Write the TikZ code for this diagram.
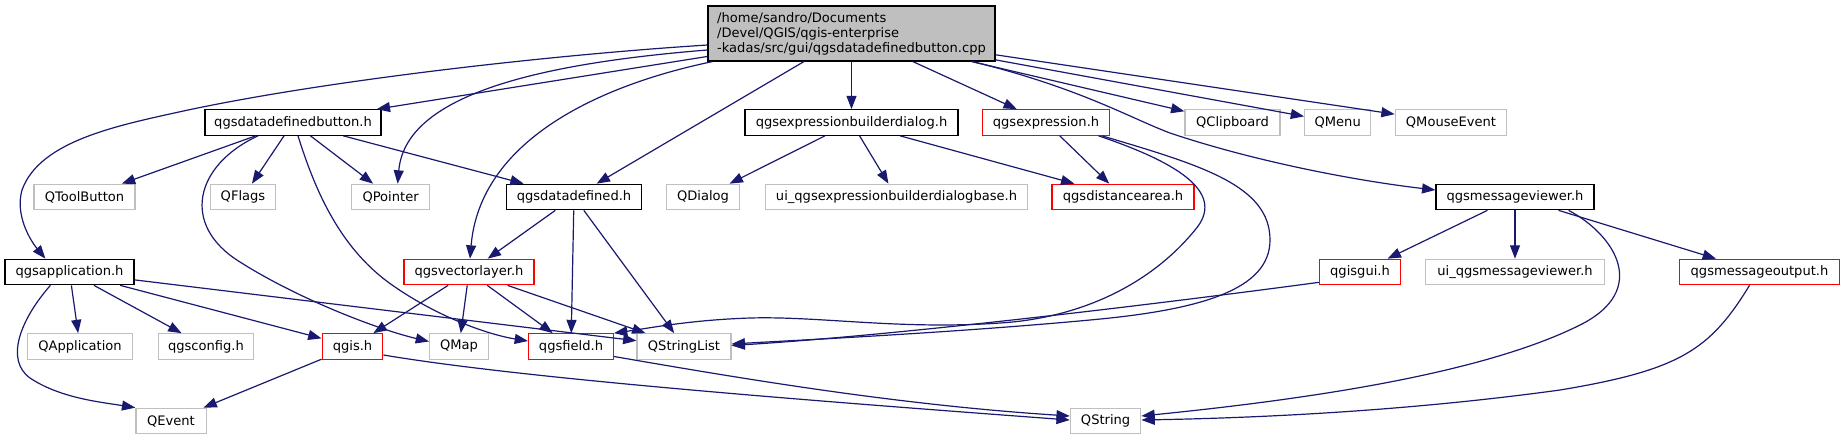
\documentclass[tikz,border=0pt]{standalone}
\usepackage{fontspec}
\setmainfont{DejaVu Sans}
\usetikzlibrary{arrows.meta,calc}
\definecolor{edgec}{HTML}{191970}
\definecolor{greyc}{HTML}{BFBFBF}
\begin{document}
\begin{tikzpicture}[x=0.75pt,y=-0.75pt,
  base/.style={draw, line width=0.9pt, inner sep=0pt, minimum height=25.5*0.75pt,
    font=\fontsize{9.8}{11.25}\selectfont, text=black},
  blk/.style={base, draw=black},
  redb/.style={base, draw=red},
  gry/.style={base, draw=greyc},
  w/.style={minimum width=#1*0.75pt},
  edge/.style={draw=edgec, line width=0.9pt, -{Triangle[length=10pt,width=7.5pt]}}
]
\useasboundingbox[fill=white] (0,0) rectangle (1844,440);

% row 1
\node[blk, fill=greyc, w=287, minimum height=55*0.75pt, align=left] (main) at (851.5,33.5)
  {/home/sandro/Documents\\/Devel/QGIS/qgis-enterprise\\-kadas/src/gui/qgsdatadefinedbutton.cpp};
% row 2
\node[blk, w=176] (dbh) at (293,122.5) {qgsdatadefinedbutton.h};
\node[blk, w=213] (ebd) at (851.5,122.5) {qgsexpressionbuilderdialog.h};
\node[redb, w=127] (expr) at (1046,122.5) {qgsexpression.h};
\node[gry, w=95] (qclip) at (1232.5,122.5) {QClipboard};
\node[gry, w=66] (qmenu) at (1337.7,122.5) {QMenu};
\node[gry, w=111.5] (qmouse) at (1451,122.5) {QMouseEvent};
% row 3
\node[gry, w=101] (qtool) at (84.5,197) {QToolButton};
\node[gry, w=65] (qflags) at (243,197) {QFlags};
\node[gry, w=78.4] (qpointer) at (390.6,197) {QPointer};
\node[blk, w=135] (qdd) at (574,197) {qgsdatadefined.h};
\node[gry, w=73.3] (qdialog) at (703,197) {QDialog};
\node[gry, w=262.3] (uiebd) at (896.5,197) {ui\_qgsexpressionbuilderdialogbase.h};
\node[redb, w=142] (qdist) at (1123,197) {qgsdistancearea.h};
\node[blk, w=158] (mv) at (1515,197) {qgsmessageviewer.h};
% row 4
\node[blk, w=129] (qapp) at (69.5,272) {qgsapplication.h};
\node[redb, w=130] (qvl) at (469,272) {qgsvectorlayer.h};
\node[redb, w=81.3] (qgisgui) at (1360,272) {qgisgui.h};
\node[gry, w=178.4] (uimv) at (1515,272) {ui\_qgsmessageviewer.h};
\node[redb, w=159.6] (msgout) at (1759.5,272) {qgsmessageoutput.h};
% row 5
\node[gry, w=105.3] (qapplication) at (80,346.5) {QApplication};
\node[gry, w=95.6] (qgsconfig) at (206,346.5) {qgsconfig.h};
\node[redb, w=60.7] (qgis) at (352.5,346.5) {qgis.h};
\node[gry, w=58.7] (qmap) at (459,346.5) {QMap};
\node[redb, w=84.8] (qgsfield) at (571,346.5) {qgsfield.h};
\node[gry, w=93.9] (qstringlist) at (684,346.5) {QStringList};
% row 6
\node[gry, w=70.2] (qevent) at (171,421) {QEvent};
\node[gry, w=70.4] (qstring) at (1105.6,421) {QString};

% main edges
\draw[edge] ($(main.west)+(0,11.5)$) .. controls (550,55) and (330,80) .. (188,110)
  .. controls (120,125) and (40,140) .. (22,190)
  .. controls (15,215) and (30,240) .. ($(qapp.north west)+(41,0)$);
\draw[edge] (main) -- (dbh);
\draw[edge] ($(main.west)+(0,16.5)$) .. controls (520,65) and (405,100) .. ($(qpointer.north)+(7,0)$);
\draw[edge] ($(main.south west)+(5,0)$) .. controls (600,85) and (480,140) .. ($(qvl.north)+(1,0)$);
\draw[edge] (main) -- (qdd);
\draw[edge] (main) -- (ebd);
\draw[edge] (main) -- (expr);
\draw[edge] (main) -- (qclip);
\draw[edge] (main) -- (qmenu);
\draw[edge] (main) -- (qmouse);
\draw[edge] ($(main.south east)+(-23,0)$) .. controls (1080,88) and (1130,118) .. (1170,133)
  .. controls (1250,160) and (1350,180) .. ($(mv.west)+(0,-7)$);

% dbh edges
\draw[edge] (dbh) -- (qtool);
\draw[edge] (dbh) -- (qflags);
\draw[edge] (dbh) -- (qpointer);
\draw[edge] (dbh) -- (qdd);
\draw[edge] ($(dbh.south)+(-35,0)$) .. controls (195,165) and (180,225) .. (240,262)
  .. controls (300,300) and (380,330) .. ($(qmap.west)+(0,-5)$);
\draw[edge] ($(dbh.south)+(5,0)$) .. controls (315,190) and (340,250) .. (395,287)
  .. controls (440,318) and (490,335) .. ($(qgsfield.west)+(0,-5.5)$);

% ebd edges
\draw[edge] (ebd) -- (qdialog);
\draw[edge] (ebd) -- (uiebd);
\draw[edge] (ebd) -- (qdist);

% expr edges
\draw[edge] (expr) -- (qdist);
\draw[edge] ($(expr.south east)+(-11.5,0)$) .. controls (1185,165) and (1225,195) .. (1195,230)
  .. controls (1150,285) and (1080,318) .. (1000,323)
  .. controls (900,330) and (820,316) .. (750,318)
  .. controls (690,320) and (650,328) .. (qgsfield.north east);
\draw[edge] ($(expr.south east)+(-8,0)$) .. controls (1200,165) and (1270,185) .. (1270,240)
  .. controls (1270,290) and (1200,310) .. (1090,320)
  .. controls (950,333) and (800,340) .. ($(qstringlist.east)+(0,-2.5)$);

% mv edges
\draw[edge] (mv) -- (qgisgui);
\draw[edge] (mv) -- (uimv);
\draw[edge] (mv) -- (msgout);
\draw[edge] ($(mv.south east)+(-26,0)$) .. controls (1615,235) and (1650,290) .. (1580,325)
  .. controls (1480,375) and (1300,400) .. ($(qstring.east)+(0,-5)$);
\draw[edge] ($(qgisgui.south west)+(0,-3)$) .. controls (1150,305) and (900,335) .. ($(qstringlist.east)+(0,-1)$);
\draw[edge] ($(msgout.south)+(-10,0)$) .. controls (1710,350) and (1680,370) .. (1560,390)
  .. controls (1400,412) and (1250,418) .. ($(qstring.east)+(0,-1)$);

% qdd edges
\draw[edge] (qdd) -- (qvl);
\draw[edge] (qdd) -- (qgsfield);
\draw[edge] (qdd) -- (qstringlist);

% qapp edges
\draw[edge] ($(qapp.south west)+(46,0)$) .. controls (20,320) and (5,360) .. (30,378)
  .. controls (60,398) and (100,402) .. (qevent.north west);
\draw[edge] (qapp) -- (qapplication);
\draw[edge] (qapp) -- (qgsconfig);
\draw[edge] (qapp) -- (qgis);
\draw[edge] (qapp) -- (qstringlist);

% qvl edges
\draw[edge] (qvl) -- (qgis);
\draw[edge] (qvl) -- (qmap);
\draw[edge] (qvl) -- (qgsfield);
\draw[edge] (qvl) -- (qstringlist);

% qgis, qgsfield edges
\draw[edge] (qgis) -- (qevent);
\draw[edge] ($(qgis.east)+(0,8.5)$) .. controls (520,378) and (800,400) .. ($(qstring.west)+(0,-1)$);
\draw[edge] ($(qgsfield.east)+(0,10)$) .. controls (750,380) and (900,405) .. ($(qstring.west)+(0,-5)$);
\end{tikzpicture}
\end{document}
